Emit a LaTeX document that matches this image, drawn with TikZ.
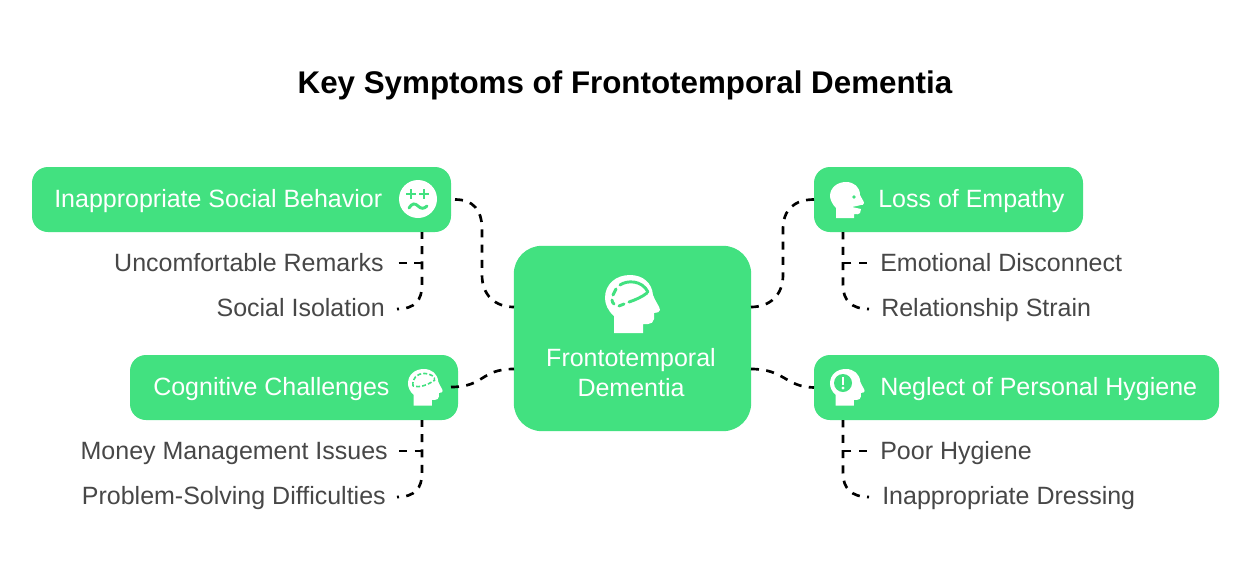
\documentclass[tikz,border=0pt]{standalone}
\usepackage{fontspec}
\setmainfont{Liberation Sans}
\usetikzlibrary{calc}
\definecolor{brand}{HTML}{42E180}
\definecolor{leaftext}{HTML}{474747}
\newcommand{\headfill}{%
  \fill[white] (9,58) -- (9,41) .. controls (3,36) and (0,29) .. (0,23)
      .. controls (0,9) and (11,0) .. (25,0)
      .. controls (38,0) and (47,8) .. (48,20)
      .. controls (50,26) and (55,32) .. (55,35)
      .. controls (55,37) and (52,38) .. (49,38)
      -- (49,44) .. controls (49,47) and (46,49) .. (43,49)
      -- (38,49) -- (38,58) -- cycle;}
\tikzset{
  x=0.75pt,y=-0.75pt,
  box/.style={fill=brand,rounded corners=12pt,inner sep=0pt,outer sep=0pt},
  boxtext/.style={anchor=base west,inner sep=0pt,text=white,font=\fontsize{18.75pt}{22pt}\selectfont},
  leaf/.style={inner sep=0pt,text=leaftext,font=\fontsize{18.75pt}{22pt}\selectfont},
  link/.style={draw=black,line width=2pt,dash pattern=on 6pt off 5.5pt},
  leafend/.style={draw=black,line width=2pt,dash pattern=on 6pt off 5.5pt,dash phase=4.5pt},
}
\begin{document}
\begin{tikzpicture}
\useasboundingbox (0,0) rectangle (1250,572);
\fill[white] (0,0) rectangle (1250,572);

\node[font=\bfseries\fontsize{23.5pt}{27pt}\selectfont,inner sep=0pt,anchor=base] (title) at (625,93.5) {Key Symptoms of Frontotemporal Dementia};

% boxes
\node[box,rounded corners=21pt,minimum width=178pt,minimum height=139pt] (center) at (632.5,338.5) {};
\node[box,minimum width=314.25pt,minimum height=48.75pt] (A) at (241.5,199.5) {};
\node[box,minimum width=246pt,minimum height=48.75pt] (B) at (294,387.5) {};
\node[box,minimum width=201.75pt,minimum height=48.75pt] (C) at (948.5,199.5) {};
\node[box,minimum width=303.75pt,minimum height=48.75pt] (D) at (1016.5,387.5) {};

% box labels
\node[boxtext] (Atext) at (54,207.3) {Inappropriate Social Behavior};
\node[boxtext] (Btext) at (153,395.3) {Cognitive Challenges};
\node[boxtext] (Ctext) at (878,207.3) {Loss of Empathy};
\node[boxtext] (Dtext) at (880,395.3) {Neglect of Personal Hygiene};
\node[inner sep=0pt,text=white,align=center,font=\fontsize{18.75pt}{22.5pt}\selectfont] (centertext) at (631,372.5) {Frontotemporal\\Dementia};

% leaves
\node[leaf,anchor=base east] (a1) at (384,271.7) {Uncomfortable Remarks};
\node[leaf,anchor=base east] (a2) at (385,316.7) {Social Isolation};
\node[leaf,anchor=base east] (b1) at (388,459.7) {Money Management Issues};
\node[leaf,anchor=base east] (b2) at (386,504.7) {Problem-Solving Difficulties};
\node[leaf,anchor=base west] (c1) at (880,271.7) {Emotional Disconnect};
\node[leaf,anchor=base west] (c2) at (881,316.7) {Relationship Strain};
\node[leaf,anchor=base west] (d1) at (880,459.7) {Poor Hygiene};
\node[leaf,anchor=base west] (d2) at (882,504.7) {Inappropriate Dressing};

% junction points
\coordinate (At) at (422,232);
\coordinate (Bt) at (422,420);
\coordinate (Ct) at (843,232);
\coordinate (Dt) at (843,420);
\coordinate (cAin) at (514,307);
\coordinate (cBin) at (514,369);
\coordinate (cCin) at (751,307);
\coordinate (cDin) at (751,369);
\coordinate (a2end) at (397,309);
\coordinate (b2end) at (397,497);
\coordinate (c2end) at (869,309);
\coordinate (d2end) at (869,497);
\coordinate (Bout) at (451,387);

% main links
\draw[link] ([xshift=3pt]A.east) .. controls +(18,0) and (482,210) .. (482,229) -- (482,275)
   .. controls (482,295) and (495,307) .. (cAin);
\draw[link] (C.west) .. controls +(-20,0) and (783,210) .. (783,229) -- (783,275)
   .. controls (783,295) and (770,307) .. (cCin);
\draw[link] (Bout) .. controls (485,387) and (480,369) .. (cBin);
\draw[link] (cDin) .. controls (785,369) and (785,387) .. (D.west);

% trunks
\draw[leafend] (a2end) .. controls (415,309) and (422,300) .. (422,285) -- (At);
\draw[link] ([xshift=11pt]a1.east |- 0,263) -- (422,263);
\draw[leafend] (b2end) .. controls (415,497) and (422,488) .. (422,473) -- (Bt);
\draw[link] ([xshift=8.5pt]b1.east |- 0,451) -- (422,451);
\draw[leafend] (c2end) .. controls (851,309) and (843,300) .. (843,285) -- (Ct);
\draw[link] ([xshift=-10pt]c1.west |- 0,263) -- (843,263);
\draw[leafend] (d2end) .. controls (851,497) and (843,488) .. (843,473) -- (Dt);
\draw[link] ([xshift=-10pt]d1.west |- 0,451) -- (843,451);

% centre icon
\begin{scope}[shift={(605,275)}]
  \headfill
  \begin{scope}[brand,line width=2.2pt,line cap=round]
    \draw (15,10) .. controls (22,5) and (37,5) .. (43,17);
    \draw (42,18) .. controls (37,22) and (30,25) .. (24,27);
    \draw (19,29) -- (14,31);
    \draw (9,29) .. controls (8,28) and (7,27) .. (7,25);
    \draw (8,20) -- (11,14);
  \end{scope}
\end{scope}

% emoji icon
\node[circle,fill=white,minimum size=28.5pt,inner sep=0pt] (emoji) at (418,199) {};
\begin{scope}[shift={(418,199)},brand,line width=2.2pt]
  \draw (-12,-5) -- (-2,-5) (-7,-10) -- (-7,0);
  \draw (1,-5) -- (11,-5) (6,-10) -- (6,0);
  \draw[line cap=round] (-9,9) .. controls (-6,4) and (-3,4) .. (0,7) .. controls (3,10) and (6,10) .. (9,7);
\end{scope}

% cognitive icon
\begin{scope}[shift={(408,369)},scale=0.63]
  \headfill
  \draw[brand,line width=1.2pt,dash pattern=on 3pt off 1.6pt]
    (8,27) .. controls (6,14) and (15,7) .. (26,7) .. controls (36,7) and (44,13) .. (42,18)
    .. controls (30,26) and (18,30) .. (8,27);
\end{scope}

% loss of empathy icon
\begin{scope}[shift={(830,182)}]
  \fill[white] (6,36) -- (6,26) .. controls (2,22) and (0,17) .. (0,14)
     .. controls (0,6) and (7,0) .. (16,0)
     .. controls (24,0) and (30,5) .. (30,13) .. controls (31,16) and (34,19) .. (34,21)
     .. controls (34,23) and (32,23) .. (31,23)
     -- (22,25) -- (31,27) -- (30,31) .. controls (29,33) and (27,32) .. (24,32)
     -- (24,36) -- cycle;
  \fill[brand] (24,15) circle (1.8);
\end{scope}

% hygiene icon
\begin{scope}[shift={(830,369)},scale=0.63]
  \headfill
\end{scope}
\fill[brand] (843,383) circle (9);
\fill[white] (841.8,377) rectangle (844.2,385);
\fill[white] (843,388) circle (1.6);
\end{tikzpicture}
\end{document}
